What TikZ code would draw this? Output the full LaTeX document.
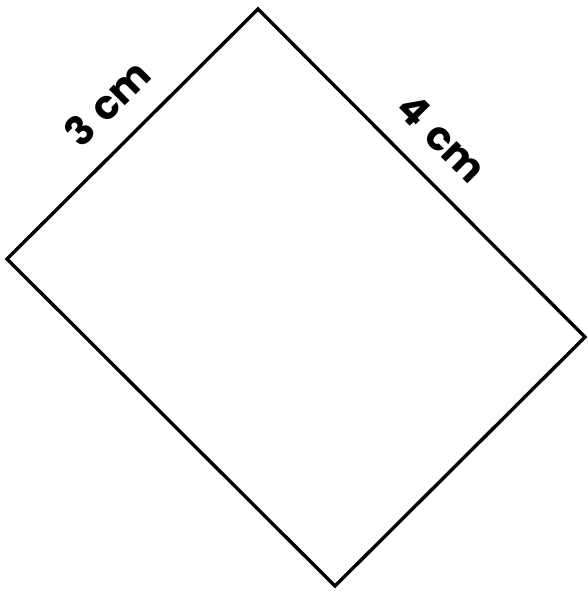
\documentclass[tikz,border=0pt]{standalone}
\usepackage{fontspec}
\setmainfont{Poppins}
\begin{document}
\begin{tikzpicture}[x=1pt,y=-1pt,
  edge/.style={line width=3.4pt,line join=miter},
  lbl/.style={font=\bfseries\fontsize{40}{40}\selectfont,inner sep=0pt}]
\useasboundingbox (0,0) rectangle (588,591);
\coordinate (T) at (258,9);
\coordinate (L) at (7,259);
\coordinate (B) at (335,586);
\coordinate (R) at (585,337);
\draw[edge] (T) -- (R) -- (B) -- (L) -- cycle;
\node[lbl,rotate=45] (a) at (107,103) {3\hspace{0.3em}cm};
\node[lbl,rotate=-45] (b) at (442,138) {4\hspace{0.3em}cm};
\end{tikzpicture}
\end{document}
